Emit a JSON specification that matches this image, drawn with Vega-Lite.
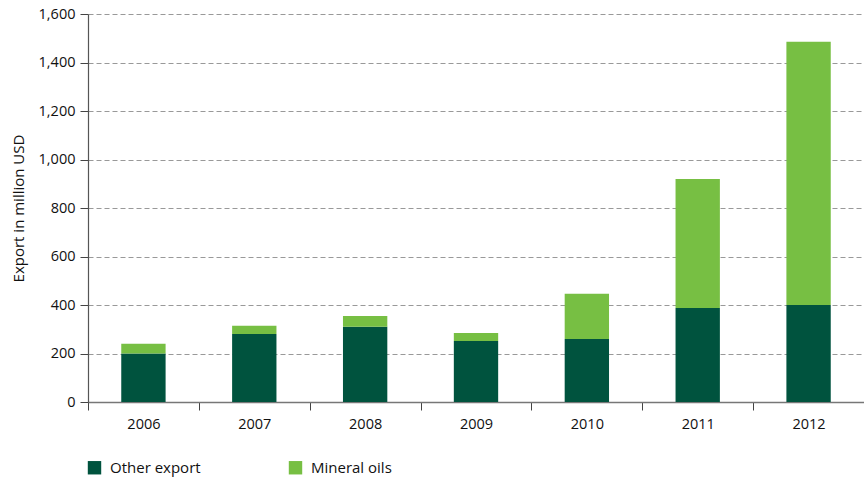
{
  "$schema": "https://vega.github.io/schema/vega-lite/v6.json",
  "autosize": "none",
  "width": 776,
  "height": 388,
  "padding": {"left": 88, "top": 14, "right": 0, "bottom": 77},
  "background": "white",
  "config": {
    "font": "Open Sans",
    "view": {"stroke": null}
  },
  "data": {
    "values": [
      {"year": "2006", "type": "Other export", "value": 200},
      {"year": "2006", "type": "Mineral oils", "value": 40},
      {"year": "2007", "type": "Other export", "value": 280},
      {"year": "2007", "type": "Mineral oils", "value": 34},
      {"year": "2008", "type": "Other export", "value": 310},
      {"year": "2008", "type": "Mineral oils", "value": 45},
      {"year": "2009", "type": "Other export", "value": 252},
      {"year": "2009", "type": "Mineral oils", "value": 33},
      {"year": "2010", "type": "Other export", "value": 260},
      {"year": "2010", "type": "Mineral oils", "value": 186},
      {"year": "2011", "type": "Other export", "value": 388},
      {"year": "2011", "type": "Mineral oils", "value": 532},
      {"year": "2012", "type": "Other export", "value": 400},
      {"year": "2012", "type": "Mineral oils", "value": 1086}
    ]
  },
  "mark": {"type": "bar", "width": {"band": 0.4}},
  "encoding": {
    "x": {
      "field": "year",
      "type": "ordinal",
      "scale": {"paddingInner": 0, "paddingOuter": 0},
      "axis": {
        "title": null,
        "labelAngle": 0,
        "labelFontSize": 14.5,
        "labelColor": "#111",
        "labelPadding": 7,
        "tickBand": "extent",
        "tickSize": 8,
        "tickColor": "#444",
        "domainColor": "#777",
        "domainWidth": 1.5
      }
    },
    "y": {
      "field": "value",
      "type": "quantitative",
      "stack": "zero",
      "scale": {"domain": [0, 1600], "nice": false},
      "axis": {
        "title": "Export in million USD",
        "titleFontSize": 15,
        "titleFontWeight": "normal",
        "titleColor": "#111",
        "titlePadding": 12,
        "values": [0, 200, 400, 600, 800, 1000, 1200, 1400, 1600],
        "format": ",d",
        "labelFontSize": 14.5,
        "labelColor": "#111",
        "labelPadding": 5,
        "tickSize": 8,
        "tickColor": "#444",
        "domainColor": "#555",
        "domainWidth": 1.2,
        "grid": true,
        "gridColor": "#999",
        "gridDash": [5, 3],
        "gridWidth": 1
      }
    },
    "color": {
      "field": "type",
      "type": "nominal",
      "sort": ["Other export", "Mineral oils"],
      "scale": {"domain": ["Other export", "Mineral oils"], "range": ["#00533e", "#77bf43"]},
      "legend": {
        "title": null,
        "orient": "none",
        "legendX": -1,
        "legendY": 446,
        "direction": "horizontal",
        "symbolType": "square",
        "symbolSize": 180,
        "symbolStrokeWidth": 0,
        "labelFontSize": 15,
        "labelColor": "#111",
        "labelOffset": 8,
        "columnPadding": 87
      }
    },
    "order": {"field": "type", "sort": "descending"}
  }
}
